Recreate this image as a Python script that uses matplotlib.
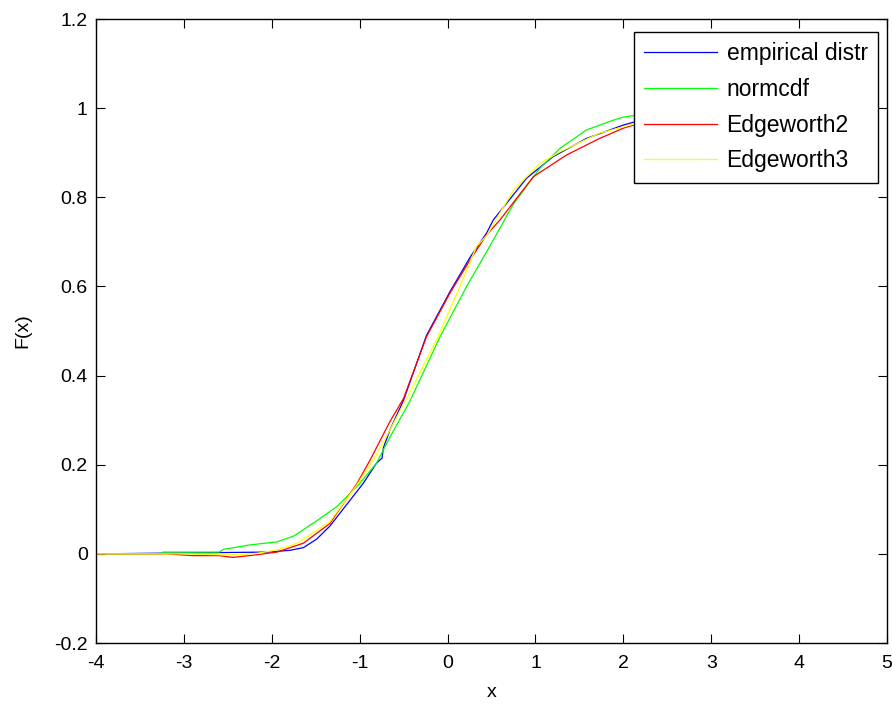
import numpy as np
import matplotlib
matplotlib.use('agg')
import matplotlib.pyplot as plt

plt.rcParams['font.family'] = ['Liberation Sans', 'DejaVu Sans']
plt.rcParams['axes.unicode_minus'] = False

# empirical distribution (blue)
empX = [-4, -2.04, -1.79, -1.64, -1.49, -1.34, -1.19, -0.96, -0.81, -0.745, -0.73,
        -0.655, -0.5, -0.24, 0.027, 0.255, 0.445, 0.52, 0.90, 1.20, 1.58, 2.0, 2.5, 3.2]
empF = [0, 0.004, 0.008, 0.014, 0.033, 0.062, 0.10, 0.158, 0.203, 0.215, 0.238,
        0.278, 0.345, 0.49, 0.588, 0.665, 0.72, 0.749, 0.843, 0.891, 0.932, 0.962, 0.99, 1.0]

# normcdf (green)
normX = [-4, -3.25, -3.24, -2.6, -2.55, -2.25, -1.94, -1.75, -1.49, -1.26, -1.03, -0.81,
         -0.655, -0.43, -0.086, 0.217, 0.48, 0.75, 1.05, 1.28, 1.58, 1.885, 2.0, 2.5, 3.0, 3.5]
normF = [0, 0, 0.004, 0.004, 0.01, 0.02, 0.027, 0.04, 0.074, 0.106, 0.151, 0.203,
         0.262, 0.342, 0.487, 0.600, 0.69, 0.785, 0.865, 0.91, 0.951, 0.973, 0.98, 0.994, 0.999, 1.0]

# Edgeworth2 (red)
edge2X = [-4, -3.2, -2.9, -2.6, -2.44, -2.17, -2.02, -1.94, -1.64, -1.34, -1.03, -0.88,
          -0.655, -0.5, -0.24, 0.027, 0.255, 0.445, 0.596, 0.975, 1.355, 1.73, 2.0, 2.5, 3.0, 3.5]
edge2F = [0, 0, -0.004, -0.004, -0.008, -0.002, 0.002, 0.004, 0.024, 0.068, 0.158, 0.211,
          0.297, 0.349, 0.487, 0.585, 0.659, 0.716, 0.749, 0.846, 0.895, 0.932, 0.955, 0.985, 0.998, 1.0]

# Edgeworth3 (yellow)
edge3X = [-4, -3.0, -2.6, -2.4, -2.17, -1.94, -1.72, -1.34, -1.03, -0.81, -0.655, -0.465,
          -0.124, 0.141, 0.33, 0.445, 0.75, 1.05, 1.28, 1.73, 2.0, 2.5, 3.0, 3.5]
edge3F = [0, 0, -0.002, -0.002, 0.001, 0.009, 0.023, 0.072, 0.155, 0.222, 0.278, 0.349,
          0.48, 0.60, 0.69, 0.714, 0.816, 0.876, 0.902, 0.944, 0.958, 0.985, 0.998, 1.0]

xTicks = [-4, -3, -2, -1, 0, 1, 2, 3, 4, 5]
yTicks = [-0.2, 0, 0.2, 0.4, 0.6, 0.8, 1, 1.2]
yTickLabels = ['-0.2', '0', '0.2', '0.4', '0.6', '0.8', '1', '1.2']

fig = plt.figure(figsize=(8.92, 7.06), dpi=100)
ax = fig.add_axes([96 / 892, 63 / 706, 791 / 892, 624 / 706])

ax.plot(empX, empF, color=(0, 0, 1), lw=0.9, label='empirical distr')
ax.plot(normX, normF, color=(0, 1, 0), lw=0.9, label='normcdf')
ax.plot(edge2X, edge2F, color=(1, 0, 0), lw=0.9, label='Edgeworth2')
ax.plot(edge3X, edge3F, color=(1, 1, 0), lw=0.9, label='Edgeworth3')

ax.set_xlim(-4, 5)
ax.set_ylim(-0.2, 1.2)
ax.set_xticks(xTicks)
ax.set_xticklabels([str(t) for t in xTicks])
ax.set_yticks(yTicks)
ax.set_yticklabels(yTickLabels)
ax.tick_params(direction='in', top=True, right=True, length=6.5, width=0.8,
               labelsize=14, colors='black')
ax.tick_params(axis='x', pad=9)
ax.tick_params(axis='y', pad=6)
for s in ax.spines.values():
    s.set_linewidth(1.0)

ax.set_xlabel('x', fontsize=14, labelpad=8)
ax.set_ylabel('F(x)', fontsize=14, labelpad=16)

leg = ax.legend(loc='upper right', bbox_to_anchor=(0.9886, 0.979), borderaxespad=0,
                fancybox=False, framealpha=1, edgecolor='black', fontsize=16.5,
                handlelength=3.2, handletextpad=0.4, labelspacing=0.55,
                borderpad=0.45)
leg.get_frame().set_linewidth(1.0)

fig.savefig('out.png', dpi=100)
